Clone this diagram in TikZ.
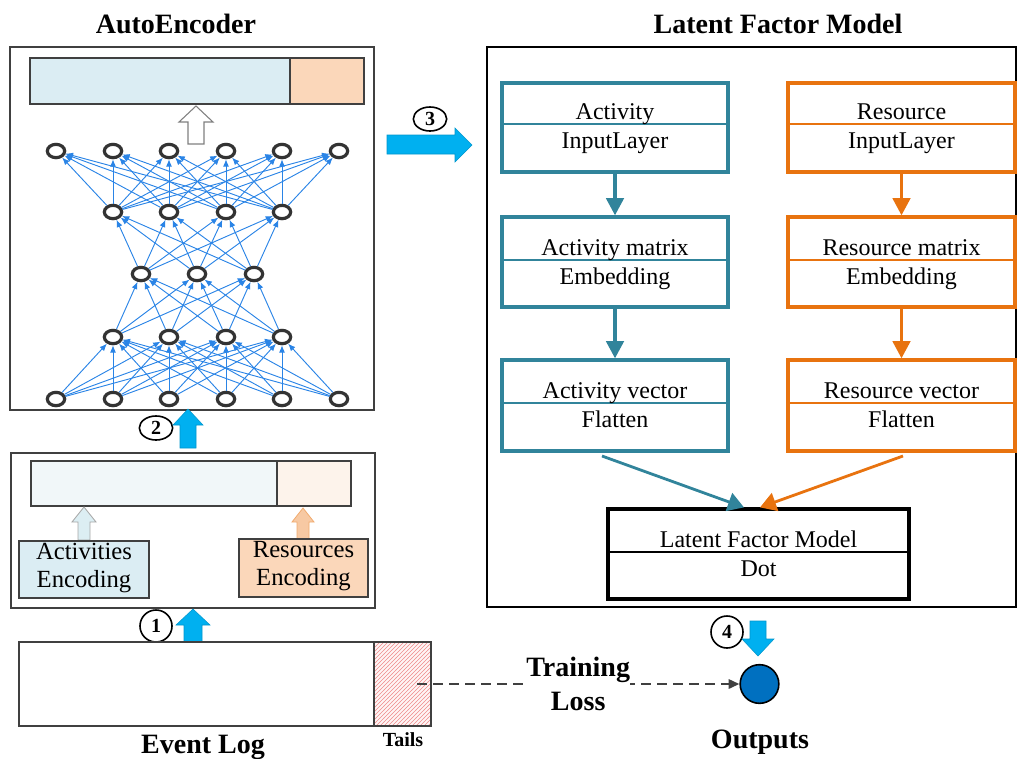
\documentclass[tikz,border=0pt]{standalone}
\usepackage{fontspec}
\setmainfont{Liberation Serif}
\usetikzlibrary{shapes.geometric,arrows.meta,patterns,fit,calc}
\definecolor{dgray}{HTML}{404040}
\definecolor{ngray}{HTML}{333333}
\definecolor{aeblue}{HTML}{DBEDF3}
\definecolor{aeorange}{HTML}{FBD7BA}
\definecolor{palebl}{HTML}{F1F7F9}
\definecolor{paleor}{HTML}{FDF3EB}
\definecolor{tealc}{HTML}{31849B}
\definecolor{orangec}{HTML}{E8730F}
\definecolor{cyanc}{HTML}{00B0F0}
\definecolor{outblue}{HTML}{0070C0}
\definecolor{nnblue}{HTML}{2A84E6}
\definecolor{tailred}{HTML}{EE8A8A}
\definecolor{arrowor}{HTML}{F7C9A3}
\definecolor{arrowbl}{HTML}{DCEEF3}
\begin{document}
\begin{tikzpicture}[x=0.75pt,y=-0.75pt,
  title/.style={font=\fontsize{21}{25}\selectfont\bfseries, anchor=base, inner sep=0pt},
  lbl/.style={font=\fontsize{18}{21}\selectfont, anchor=base, inner sep=0pt},
  rect/.style={inner sep=0pt},
  bar/.style={draw=dgray, line width=1.4pt, inner sep=0pt},
  neuron/.style={ellipse, draw=ngray, line width=2.4pt, fill=white, minimum width=13pt, minimum height=10pt, inner sep=0pt},
  nnarrow/.style={draw=nnblue, line width=0.7pt, -{Latex[length=5.5pt,width=4.5pt]}},
  tealbox/.style={draw=tealc, line width=2.4pt, inner sep=0pt, fill=white},
  orbox/.style={draw=orangec, line width=2.4pt, inner sep=0pt, fill=white},
  tealarr/.style={draw=tealc, line width=2.8pt, -{Triangle[length=13pt,width=13pt]}},
  orarr/.style={draw=orangec, line width=2.8pt, -{Triangle[length=13pt,width=13pt]}},
  tealarrb/.style={draw=tealc, line width=2.1pt, -{Triangle[length=12pt,width=14pt]}},
  orarrb/.style={draw=orangec, line width=2.1pt, -{Triangle[length=12pt,width=14pt]}},
  numc/.style={circle, draw=black, line width=1.2pt, fill=white, minimum size=24pt, inner sep=0pt, font=\fontsize{15}{15}\selectfont\bfseries},
  nume/.style={ellipse, draw=black, line width=1.2pt, fill=white, minimum width=25pt, minimum height=18pt, inner sep=0pt, font=\fontsize{15}{15}\selectfont\bfseries},
  blockarr/.style={fill=cyanc, draw=cyanc!85!black, line width=0.4pt},
  enctext/.style={font=\fontsize{18.5}{20.5}\selectfont, align=center, inner sep=0pt},
  bold/.style={font=\fontsize{21}{25.5}\selectfont\bfseries, inner sep=0pt}
]
\useasboundingbox (0,0) rectangle (1017,758);

% ---------- titles ----------
\node[title] (aetitle) at (176,33) {AutoEncoder};
\node[title] (lfmtitle) at (778,33) {Latent Factor Model};

% ---------- AutoEncoder ----------
\node[fit={(10,47) (374,410)}, draw=dgray, line width=1.6pt, rect] (aebox) {};
\node[fit={(30,58) (290,104)}, bar, fill=aeblue] (outact) {};
\node[fit={(290,58) (364,104)}, bar, fill=aeorange] (outres) {};
\draw[draw=gray, fill=white, line width=0.8pt]
  (188,144) -- (188,122) -- (179,122) -- (196,106) -- (213,122) -- (204,122) -- (204,144) -- cycle;

\foreach \x [count=\i] in {56,113,169,226,282,339} {\node[neuron] (a\i) at (\x,151) {};}
\foreach \x [count=\i] in {113,169,226,282} {\node[neuron] (b\i) at (\x,212) {};}
\foreach \x [count=\i] in {141,197,254} {\node[neuron] (c\i) at (\x,274) {};}
\foreach \x [count=\i] in {113,169,226,282} {\node[neuron] (d\i) at (\x,337) {};}
\foreach \x [count=\i] in {56,113,169,226,282,339} {\node[neuron] (e\i) at (\x,399) {};}

\foreach \i in {1,...,6} {\foreach \j in {1,...,4} {\draw[nnarrow] (e\i) -- (d\j);}}
\foreach \i in {1,...,4} {\foreach \j in {1,...,3} {\draw[nnarrow] (d\i) -- (c\j);}}
\foreach \i in {1,...,3} {\foreach \j in {1,...,4} {\draw[nnarrow] (c\i) -- (b\j);}}
\foreach \i in {1,...,4} {\foreach \j in {1,...,6} {\draw[nnarrow] (b\i) -- (a\j);}}

% step 2
\node[nume] (n2) at (156,428) {2};
\draw[blockarr] (180,448) -- (180,425) -- (173,425) -- (188,409) -- (203,425) -- (196,425) -- (196,448) -- cycle;

% ---------- Encoding ----------
\node[fit={(11,453) (375,608)}, draw=dgray, line width=1.4pt, rect] (encbox) {};
\node[fit={(31,461) (277,506)}, bar, line width=1.2pt, fill=palebl] (encact) {};
\node[fit={(277,461) (351,506)}, bar, line width=1.2pt, fill=paleor] (encres) {};
\draw[fill=arrowbl, draw=gray!70, line width=0.6pt]
  (78,540) -- (78,522) -- (72,522) -- (84,507) -- (96,522) -- (90,522) -- (90,540) -- cycle;
\draw[fill=arrowor, draw=orangec!60, line width=0.6pt]
  (297,539) -- (297,522) -- (292,522) -- (303,508) -- (314,522) -- (309,522) -- (309,539) -- cycle;
\node[fit={(19,541) (149,598)}, bar, fill=aeblue] (actenc) {};
\node[enctext] (actenctxt) at (84,568) {Activities\\Encoding};
\node[fit={(239,539) (368,597)}, bar, fill=aeorange] (resenc) {};
\node[enctext] (resenctxt) at (303.5,566) {Resources\\Encoding};

% step 1
\node[numc] (n1) at (156,626) {1};
\draw[blockarr] (184,642) -- (184,625) -- (176,625) -- (193,609) -- (210,625) -- (202,625) -- (202,642) -- cycle;

% ---------- Event log ----------
\node[fit={(19,642) (431,726)}, draw=dgray, line width=1.4pt, rect] (evlog) {};
\node[fit={(374,642) (431,726)}, fill=red!4, rect] (tailsbg) {};
\node[fit={(374,642) (431,726)}, pattern=north east lines, pattern color=tailred, rect] (tailshatch) {};
\node[fit={(374,642) (431,726)}, draw=dgray, line width=1.4pt, rect] (tails) {};
\node[title] (evtitle) at (203,753) {Event Log};
\node[title, font=\fontsize{15}{18}\selectfont\bfseries] (tailstitle) at (403,746) {Tails};

% ---------- step 3 ----------
\node[nume] (n3) at (430,119) {3};
\draw[blockarr] (387,135) -- (455,135) -- (455,128) -- (472,145) -- (455,162) -- (455,154) -- (387,154) -- cycle;

% ---------- Latent Factor Model ----------
\node[fit={(487,47) (1016,607)}, draw=black, line width=1.2pt, rect] (lfmbox) {};

\node[tealbox, fit={(502,83) (728,172)}] (act1) {};
\draw[tealc, line width=1.3pt] (502,124) -- (728,124);
\node[lbl] (act1a) at (615,119) {Activity};
\node[lbl] (act1b) at (615,148) {InputLayer};

\node[tealbox, fit={(502,217) (728,307)}] (act2) {};
\draw[tealc, line width=1.3pt] (502,260) -- (728,260);
\node[lbl] (act2a) at (615,255) {Activity matrix};
\node[lbl] (act2b) at (615,284) {Embedding};

\node[tealbox, fit={(502,360) (728,451)}] (act3) {};
\draw[tealc, line width=1.3pt] (502,403) -- (728,403);
\node[lbl] (act3a) at (615,398) {Activity vector};
\node[lbl] (act3b) at (615,427) {Flatten};

\node[orbox, fit={(788,83) (1015,172)}] (res1) {};
\draw[orangec, line width=1.3pt] (788,124) -- (1015,124);
\node[lbl] (res1a) at (901.5,119) {Resource};
\node[lbl] (res1b) at (901.5,148) {InputLayer};

\node[orbox, fit={(788,217) (1015,307)}] (res2) {};
\draw[orangec, line width=1.3pt] (788,260) -- (1015,260);
\node[lbl] (res2a) at (901.5,255) {Resource matrix};
\node[lbl] (res2b) at (901.5,284) {Embedding};

\node[orbox, fit={(788,360) (1015,451)}] (res3) {};
\draw[orangec, line width=1.3pt] (788,403) -- (1015,403);
\node[lbl] (res3a) at (901.5,398) {Resource vector};
\node[lbl] (res3b) at (901.5,427) {Flatten};

\draw[tealarr] (act1) -- (act2);
\draw[tealarr] (act2) -- (act3);
\draw[orarr] (res1) -- (res2);
\draw[orarr] (res2) -- (res3);

\node[fit={(608,509) (909,599)}, draw=black, line width=2.4pt, rect, fill=white] (lfm) {};
\draw[black, line width=1.2pt] (608,552) -- (909,552);
\node[lbl] (lfma) at (758.5,547) {Latent Factor Model};
\node[lbl] (lfmb) at (758.5,576) {Dot};

\coordinate (tstart) at (602,456);
\coordinate (ostart) at (903,456);
\draw[tealarrb] (tstart) -- ($(lfm.north)+(-14.5,0)$);
\draw[orarrb] (ostart) -- ($(lfm.north)+(1.5,0)$);

% ---------- outputs ----------
\node[circle, draw=black, line width=1.2pt, fill=outblue, minimum size=29pt, inner sep=0pt] (out) at (759.5,684) {};
\node[numc] (n4) at (727,632) {4};
\draw[blockarr] (750,621) -- (766,621) -- (766,639) -- (774,639) -- (758,656) -- (742,639) -- (750,639) -- cycle;
\node[title] (outtitle) at (760,748) {Outputs};

\coordinate (tailsrc) at (417,684);
\draw[dgray, line width=1.5pt, dash pattern=on 7.5pt off 4.5pt, -{Triangle[length=8pt,width=7pt]}]
  (tailsrc) -- node[pos=0.5, fill=white, text=black, inner xsep=4pt, inner ysep=1pt, bold, align=center] (loss) {Training\\Loss} (out.west);
\end{tikzpicture}
\end{document}
